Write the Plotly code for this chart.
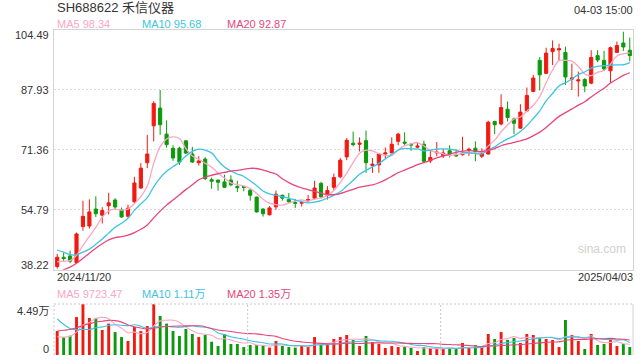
import plotly.graph_objects as go
import pandas as pd

# ---------------- data ----------------
title_text = "SH688622 禾信仪器"
time_text = "04-03 15:00"
date_labels = ["2024/11/20", "2025/04/03"]
price_ticks = [38.22, 54.79, 71.36, 87.93, 104.49]
vol_tick_labels = ["0", "4.49万"]
vol_max = 44900
ma_price_text = ["MA5 98.34", "MA10 95.68", "MA20 92.87"]
ma_vol_text = ["MA5 9723.47", "MA10 1.11万", "MA20 1.35万"]

opens = [39.09, 41.66, 42.03, 40.19, 50.13, 50.30, 55.00, 53.30, 55.90, 57.49,
         54.70, 52.98, 57.00, 60.80, 67.80, 78.00, 82.90, 75.70, 71.80, 71.80,
         73.85, 70.20, 67.80, 68.80, 63.10, 63.00, 62.50, 63.00, 61.20, 61.20,
         60.20, 58.30, 55.00, 53.40, 55.60, 58.80, 57.60, 56.80, 56.60, 57.30,
         58.00, 62.10, 58.80, 61.00, 63.90, 69.40, 73.20, 72.90, 73.90, 67.00,
         67.20, 70.20, 70.50, 73.70, 73.50, 72.90, 72.10, 72.90, 68.30, 70.50,
         69.80, 71.10, 70.00, 70.00, 71.20, 71.80, 69.60, 70.20, 79.20, 78.50,
         82.60, 79.90, 77.35, 82.10, 87.50, 96.10, 92.50, 98.50, 98.98, 98.30,
         90.90, 90.40, 90.80, 89.80, 97.40, 96.10, 93.20, 98.30, 100.90, 98.90]
highs = [42.58, 42.86, 43.50, 48.47, 57.30, 57.67, 58.50, 55.50, 59.50, 58.00,
         55.40, 56.20, 63.90, 67.70, 75.50, 84.80, 87.90, 79.50, 72.60, 72.20,
         74.00, 72.20, 69.60, 69.30, 63.70, 63.10, 64.50, 64.30, 62.80, 61.30,
         60.80, 58.40, 55.20, 55.80, 60.10, 58.96, 59.40, 57.80, 57.30, 58.90,
         62.80, 62.50, 61.30, 64.80, 69.10, 74.60, 76.40, 74.80, 76.70, 69.10,
         70.50, 72.00, 74.80, 76.10, 76.20, 73.30, 73.50, 73.90, 71.10, 73.50,
         71.60, 72.60, 71.50, 74.96, 72.00, 73.70, 71.80, 79.40, 79.40, 86.70,
         84.70, 80.30, 83.98, 88.60, 92.10, 97.00, 99.60, 101.60, 100.70, 99.90,
         95.20, 93.00, 91.20, 98.90, 98.90, 98.70, 99.90, 101.30, 104.00, 102.40]
lows = [38.54, 40.56, 40.01, 40.00, 49.00, 49.57, 52.80, 51.00, 53.50, 54.80,
        52.60, 52.60, 56.60, 60.60, 66.30, 73.70, 75.50, 72.00, 68.30, 67.20,
        70.20, 67.70, 67.00, 63.00, 60.60, 60.10, 60.80, 61.30, 59.70, 59.90,
        57.30, 54.00, 52.90, 53.20, 54.80, 57.30, 56.70, 55.30, 55.70, 56.90,
        57.60, 58.00, 57.60, 60.20, 63.50, 68.50, 72.30, 70.90, 65.00, 65.00,
        65.00, 68.90, 70.40, 72.60, 72.70, 71.10, 71.80, 67.96, 67.70, 69.60,
        69.10, 69.25, 69.40, 69.80, 69.70, 68.20, 69.10, 70.00, 75.70, 78.10,
        79.20, 75.70, 77.20, 81.96, 87.30, 87.80, 92.30, 94.80, 96.10, 89.30,
        87.90, 86.10, 87.30, 89.50, 95.60, 93.20, 89.80, 98.30, 98.70, 95.80]
closes = [41.66, 41.30, 40.56, 48.10, 52.98, 54.20, 53.70, 54.60, 56.70, 55.55,
          52.80, 55.20, 62.20, 66.30, 70.20, 84.20, 78.30, 72.80, 69.10, 67.97,
          70.46, 68.00, 68.30, 63.40, 62.70, 62.40, 61.00, 61.70, 60.90, 61.00,
          58.80, 54.20, 53.70, 55.30, 59.10, 58.00, 57.00, 56.60, 56.80, 57.60,
          60.80, 58.40, 60.10, 63.70, 68.50, 74.00, 72.80, 73.20, 67.80, 67.40,
          70.20, 70.50, 72.90, 75.70, 73.20, 72.70, 72.40, 68.20, 69.25, 70.70,
          70.50, 70.20, 69.70, 70.40, 71.50, 70.90, 70.50, 79.00, 78.30, 83.05,
          80.30, 78.70, 81.80, 86.40, 91.20, 92.10, 98.10, 99.40, 99.30, 91.50,
          91.20, 90.70, 89.00, 96.90, 96.20, 93.70, 99.60, 100.20, 99.80, 97.40]
volumes = [21100, 15500, 17000, 33400, 44900, 32600, 32600, 22000, 27600, 20200,
           15800, 12300, 24600, 21100, 25500, 44700, 34300, 27600, 21100, 16700,
           22900, 18500, 15800, 17600, 11700, 7900, 18500, 9700, 9700, 7000,
           8800, 8800, 8200, 6500, 12300, 7900, 7000, 6500, 7900, 7000,
           15800, 9700, 9700, 14100, 15800, 17600, 13200, 7900, 16700, 11400,
           9700, 6200, 7900, 7000, 7000, 6200, 3500, 7000, 6200, 5300,
           5300, 6200, 5300, 10600, 6200, 8800, 6200, 18500, 14100, 20200,
           13200, 15000, 10600, 18500, 17600, 15000, 14100, 13200, 7000, 30800,
           17600, 12300, 5300, 18500, 8800, 9700, 13200, 7900, 9700, 7000]
# sessions before the visible window (only used so the moving averages start right)
prior_closes = [26.5, 26.2, 26.0, 26.3, 26.0, 26.5, 29.4, 35.3, 42.3, 48.0,
                47.3, 47.6, 48.1, 46.0, 45.6, 40.5, 39.8, 40.6, 39.5]
prior_volumes = [3000, 2800, 3200, 2900, 3100, 2600, 8000, 12000, 25000, 42400,
                 62000, 55000, 45000, 40000, 34500, 17000, 14000, 15000, 13400]

# ---------------- styles ----------------
RED = "#f01a10"
GREEN = "#0b9a0b"
C_MA5 = "#fba6c4"
C_MA10 = "#3cc4e2"
C_MA20 = "#e8467b"
FONT = "Liberation Sans, Arial, Noto Sans CJK SC, sans-serif"
TXT = "#333333"

n = len(closes)
xs = list(range(n))
npre = len(prior_closes)
all_c = pd.Series(prior_closes + closes)
all_v = pd.Series(prior_volumes + volumes)
ma = {k: all_c.rolling(k).mean().iloc[npre:].tolist() for k in (5, 10, 20)}
vma = {k: all_v.rolling(k).mean().iloc[npre:].tolist() for k in (5, 10, 20)}
vol_colors = [RED if c >= o else GREEN for o, c in zip(opens, closes)]

fig = go.Figure()
fig.add_trace(go.Candlestick(
    x=xs, open=opens, high=highs, low=lows, close=closes,
    increasing=dict(line=dict(color=RED, width=1), fillcolor=RED),
    decreasing=dict(line=dict(color=GREEN, width=1), fillcolor=GREEN),
    whiskerwidth=0, xaxis="x", yaxis="y", showlegend=False))
for k, col in ((5, C_MA5), (10, C_MA10), (20, C_MA20)):
    fig.add_trace(go.Scatter(x=xs, y=ma[k], mode="lines", line=dict(color=col, width=1.3, shape="spline"),
                             xaxis="x", yaxis="y", showlegend=False, hoverinfo="skip"))

fig.add_trace(go.Bar(x=xs, y=volumes, marker=dict(color=vol_colors, line=dict(width=0)), width=0.45,
                     xaxis="x2", yaxis="y2", showlegend=False))
for k, col in ((5, C_MA5), (10, C_MA10), (20, C_MA20)):
    fig.add_trace(go.Scatter(x=xs, y=vma[k], mode="lines", line=dict(color=col, width=1.1, shape="spline"),
                             xaxis="x2", yaxis="y2", showlegend=False, hoverinfo="skip"))

H = 360
top_px, bot_px = 30, 355
plot_h = bot_px - top_px
main_bottom = (bot_px - 269.7) / plot_h
vol_top = (bot_px - 304) / plot_h

fig.update_layout(
    width=640, height=H,
    margin=dict(l=54, r=7, t=top_px, b=H - bot_px),
    paper_bgcolor="white", plot_bgcolor="white",
    font=dict(family=FONT, size=11, color=TXT),
    xaxis=dict(domain=[0, 1], range=[-0.5, n - 0.5], showticklabels=False, showgrid=False,
               zeroline=False, showline=True, mirror=True, linecolor="#d4d4d4", linewidth=1,
               rangeslider=dict(visible=False), anchor="y", fixedrange=True),
    yaxis=dict(domain=[main_bottom, 1], range=[price_ticks[0], price_ticks[-1]],
               tickvals=price_ticks[1:-1], showticklabels=False, showgrid=True,
               gridcolor="#dcdcdc", griddash="2px,2px", gridwidth=1, zeroline=False,
               showline=True, mirror=True, linecolor="#d4d4d4", linewidth=1, ticks=""),
    xaxis2=dict(domain=[0, 1], range=[-0.5, n - 0.5], showticklabels=False, showgrid=False,
                zeroline=False, anchor="y2"),
    yaxis2=dict(domain=[0, vol_top], range=[0, vol_max], showticklabels=False, showgrid=False,
                zeroline=False),
    bargap=0.5,
)

shapes = []
# volume panel frame
shapes.append(dict(type="line", xref="x2 domain", yref="y2 domain", x0=0, x1=1, y0=1, y1=1,
                   line=dict(color="#c8c8c8", width=1, dash="2px,2px")))
shapes.append(dict(type="line", xref="x2 domain", yref="y2 domain", x0=0, x1=0, y0=0, y1=1,
                   line=dict(color="#c8c8c8", width=1, dash="2px,2px")))
shapes.append(dict(type="line", xref="x2 domain", yref="y2 domain", x0=1, x1=1, y0=0, y1=1,
                   line=dict(color="#d4d4d4", width=1)))
for xv in (29.6, 59.6):
    shapes.append(dict(type="line", xref="x2", yref="y2 domain", x0=xv, x1=xv, y0=0, y1=1,
                       line=dict(color="#c8c8c8", width=1, dash="2px,2px")))
fig.update_layout(shapes=shapes)

ann = []
def txt(x, y, s, color=TXT, size=11, xanchor="left", xref="paper", yref="paper", yshift=0, xshift=0):
    ann.append(dict(x=x, y=y, xref=xref, yref=yref, text=s, showarrow=False, xanchor=xanchor,
                    yanchor="middle", yshift=yshift, xshift=xshift,
                    font=dict(family=FONT, size=size, color=color)))

def py(pix):  # pixel row -> paper y
    return (bot_px - pix) / plot_h

# header texts
txt(0, py(8), title_text, size=13, xshift=1)
txt(1, py(10), time_text, xanchor="right", xshift=2)
for s, col, xp in zip(ma_price_text, (C_MA5, C_MA10, C_MA20), (55, 140, 225)):
    txt((xp - 54) / 579, py(24), s, color=col)

# price axis labels
for i, v in enumerate(price_ticks):
    sh = 0
    if i == 0:
        sh = 5
    elif i == len(price_ticks) - 1:
        sh = -5
    txt(0, v, f"{v:.2f}", xanchor="right", yref="y", yshift=sh, xshift=-3)

# dates
txt(0, py(277), date_labels[0], xshift=1)
txt(1, py(277), date_labels[1], xanchor="right", xshift=2)

# volume legend and labels
for s, col, xp in zip(ma_vol_text, (C_MA5, C_MA10, C_MA20), (55, 140, 225)):
    txt((xp - 54) / 579, py(294), s, color=col)
txt(0, vol_max, vol_tick_labels[1], xanchor="right", yref="y2", yshift=-7, xshift=-3)
txt(0, 0, vol_tick_labels[0], xanchor="right", yref="y2", yshift=6, xshift=-3)

# watermark
txt((602 - 54) / 579, py(249), "sina.com", color="#d0d0d0", size=12, xanchor="center")

fig.update_layout(annotations=ann)
fig.write_html("out.html", config={"displayModeBar": False},
               post_script="document.body.style.margin='0';")
